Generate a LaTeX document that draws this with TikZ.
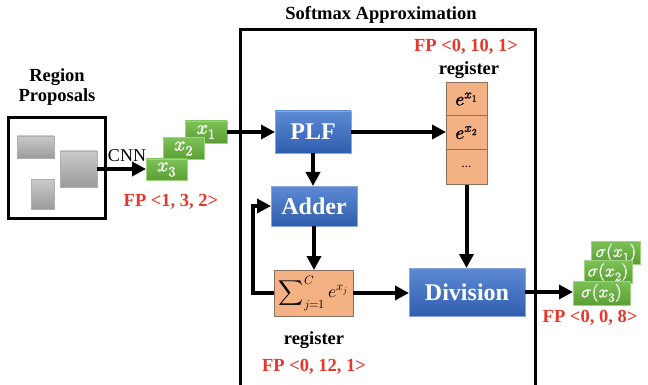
\documentclass[tikz,border=0pt]{standalone}
\usepackage{fontspec}
\setmainfont{Liberation Serif}
\usepackage{unicode-math}
\setmathfont{Latin Modern Math}
\setmathfont{Latin Modern Math}[version=heavy, FakeBold=1.6]
\usetikzlibrary{arrows.meta}

\definecolor{bluetop}{HTML}{5E8AD4}
\definecolor{bluebot}{HTML}{2F5EAE}
\definecolor{blueedge}{HTML}{86A6DC}
\definecolor{greentop}{HTML}{7CC256}
\definecolor{greenbot}{HTML}{5A9E34}
\definecolor{greenedge}{HTML}{A0D57F}
\definecolor{regfill}{HTML}{F4B183}
\definecolor{regedge}{HTML}{8A7262}
\definecolor{graytop}{HTML}{CACACA}
\definecolor{graybot}{HTML}{9B9B9B}
\definecolor{fpred}{HTML}{E4382B}

\tikzset{
  unit/.style={draw=blueedge, line width=0.8pt, top color=bluetop, bottom color=bluebot,
    text=white, font=\fontsize{24}{24}\selectfont\bfseries, inner sep=0pt, outer sep=0pt},
  vec/.style={draw=greenedge, line width=0.8pt, top color=greentop, bottom color=greenbot,
    text=white, font=\fontsize{20}{20}\selectfont\mathversion{heavy}, inner sep=0pt, outer sep=0pt},
  outvec/.style={vec, font=\fontsize{17.5}{17.5}\selectfont\mathversion{heavy}},
  cell/.style={draw=regedge, line width=0.8pt, fill=regfill, minimum width=41pt,
    minimum height=33.5pt, inner sep=0pt, outer sep=0pt, font=\fontsize{19}{19}\selectfont\mathversion{heavy}},
  patch/.style={draw=graybot!80, line width=0.5pt, top color=graytop, bottom color=graybot,
    inner sep=0pt, outer sep=0pt},
  lbl/.style={font=\fontsize{18.5}{18.5}\selectfont\bfseries, inner sep=0pt},
  fp/.style={lbl, text=fpred},
  arr/.style={line width=4pt, -{Triangle[length=14pt,width=14pt]}},
}

\begin{document}
\begin{tikzpicture}[x=1pt,y=-1pt]
\clip (0,0) rectangle (648,385);

% titles
\node[lbl] (title) at (381,15) {Softmax Approximation};
\node[lbl, align=center] (rptitle) at (57,87) {Region\\[2pt]Proposals};

% outer frame of the softmax block
\draw[line width=3pt] (240.5,395) |- (535,30) -- (535,395);

% region proposals
\node[draw, line width=3pt, minimum width=97pt, minimum height=100pt, inner sep=0pt] (rp) at (56.5,168) {};
\node[patch, minimum width=37pt, minimum height=22pt] (sq1) at (35.5,147) {};
\node[patch, minimum width=37pt, minimum height=36pt] (sq2) at (78.5,169) {};
\node[patch, minimum width=23pt, minimum height=30pt] (sq3) at (42.5,194) {};
\node[font=\fontsize{18}{18}\selectfont, inner sep=0pt] (cnn) at (127,156) {CNN};

% feature vectors
\node[vec, minimum width=42pt, minimum height=22pt] (x1) at (206,132) {$x_{1}$};
\node[vec, minimum width=41pt, minimum height=22pt] (x2) at (183.5,148.5) {$x_{2}$};
\node[vec, minimum width=41pt, minimum height=21pt] (x3) at (166.5,169.5) {$x_{3}$};
\node[fp] (fp1) at (171,202) {FP <1, 3, 2>};

% processing units
\node[unit, minimum width=76pt, minimum height=42pt] (plf) at (313,132) {PLF};
\node[unit, minimum width=86pt, minimum height=40pt] (adder) at (314,206) {Adder};
\node[unit, minimum width=116pt, minimum height=48pt] (div) at (467,292) {Division};

% exponent register
\node[cell] (r1) at (466.5,99) {$e^{x_{1}}$};
\node[cell] (r2) at (466.5,132.5) {$e^{x_{2}}$};
\node[cell, minimum height=35pt] (r3) at (466.5,167) {\fontsize{13}{13}\selectfont ...};
\node[lbl] (reglbl1) at (469,70) {register};
\node[fp] (fp2) at (466,47) {FP <0, 10, 1>};

% sum register
\node[cell, minimum width=79pt, minimum height=46pt, font=\fontsize{17.5}{17.5}\selectfont] (sum) at (313.5,293)
  {$\displaystyle\sum\nolimits_{j=1}^{C} e^{x_{j}}$};
\node[lbl] (reglbl2) at (314,340) {register};
\node[fp] (fp3) at (314,367) {FP <0, 12, 1>};

% outputs
\node[outvec, minimum width=49pt, minimum height=23pt] (s1) at (616,252.5) {$\sigma(x_{1})$};
\node[outvec, minimum width=48pt, minimum height=23pt] (s2) at (608,272) {$\sigma(x_{2})$};
\node[outvec, minimum width=57pt, minimum height=24pt] (s3) at (601.5,293) {$\sigma(x_{3})$};
\node[fp] (fp4) at (590,318) {FP <0, 0, 8>};

% data flow
\coordinate (fb) at (253,206);
\draw[arr] (sq2.east) -- (sq2.east -| x3.west);
\draw[arr] (x1.east) -- (plf.west);
\draw[arr] (plf.east) -- (plf.east -| r2.west);
\draw[arr] (plf.south) -- (plf.south |- adder.north);
\draw[arr] (adder.south) -- (adder.south |- sum.north);
\draw[arr] (sum.west) -| (fb) -- (adder.west);
\draw[arr] (sum.east) -- (sum.east -| div.west);
\draw[arr] (r3.south) -- (r3.south |- div.north);
\draw[arr] (div.east) -- (div.east -| s3.west);
\end{tikzpicture}
\end{document}
